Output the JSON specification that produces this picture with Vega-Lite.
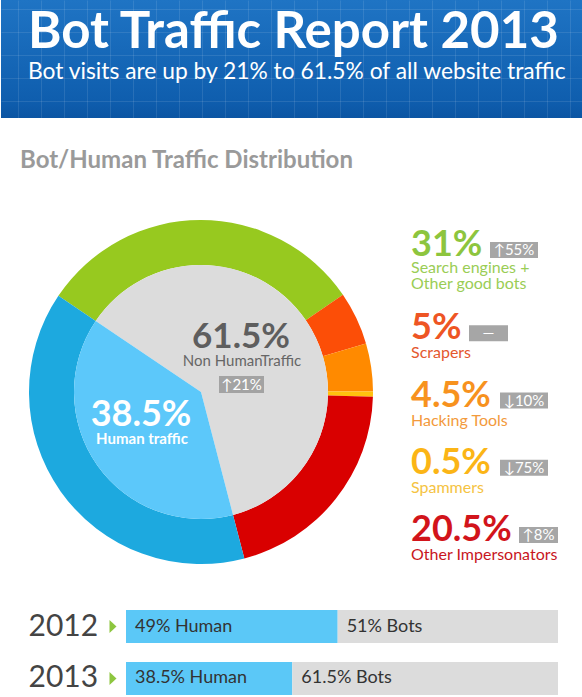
{
  "$schema": "https://vega.github.io/schema/vega-lite/v6.json",
  "padding": 0,
  "background": "white",
  "spacing": 0,
  "resolve": {"scale": {"color": "independent", "fill": "independent", "shape": "independent", "theta": "independent"}},
  "config": {
    "view": {"stroke": null},
    "font": "Lato",
    "text": {"font": "Lato"},
    "concat": {"spacing": 0}
  },
  "datasets": {
    "ring": [
      {"seg": "Good", "name": "Search engines +\nOther good bots", "pct": 0.31, "change": "↑55%", "ord": 1},
      {"seg": "Scrapers", "name": "Scrapers", "pct": 0.05, "change": "—", "ord": 2},
      {"seg": "Hacking", "name": "Hacking Tools", "pct": 0.045, "change": "↓10%", "ord": 3},
      {"seg": "Spammers", "name": "Spammers", "pct": 0.005, "change": "↓75%", "ord": 4},
      {"seg": "Impersonators", "name": "Other Impersonators", "pct": 0.205, "change": "↑8%", "ord": 5},
      {"seg": "Human", "name": "Human traffic", "pct": 0.385, "change": "", "ord": 6}
    ],
    "core": [
      {"seg": "Bots", "name": "Non HumanTraffic", "pct": 0.615, "change": "↑21%", "ord": 1},
      {"seg": "HumanCore", "name": "Human traffic", "pct": 0.385, "change": "", "ord": 2}
    ],
    "years": [
      {"year": "2012", "group": "Human", "pct": 0.49, "label": "49% Human", "ord": 1},
      {"year": "2012", "group": "Bots", "pct": 0.51, "label": "51% Bots", "ord": 2},
      {"year": "2013", "group": "Human", "pct": 0.385, "label": "38.5% Human", "ord": 1},
      {"year": "2013", "group": "Bots", "pct": 0.615, "label": "61.5% Bots", "ord": 2}
    ]
  },
  "vconcat": [
    {
      "width": 582,
      "height": 118,
      "data": {"values": [{}]},
      "layer": [
        {
          "mark": {
            "type": "rect",
            "color": {
              "gradient": "linear", "x1": 0, "y1": 0, "x2": 0, "y2": 1,
              "stops": [
                {"offset": 0, "color": "#1f74c4"},
                {"offset": 0.85, "color": "#0f5eae"},
                {"offset": 1, "color": "#0b55a3"}
              ]
            }
          }
        },
        {
          "mark": {"type": "point", "opacity": 0, "size": 0, "strokeWidth": 0},
          "encoding": {
            "x": {
              "datum": 291, "type": "quantitative",
              "scale": {"domain": [0, 582], "nice": false, "zero": false},
              "axis": {"grid": true, "zindex": 1, "values": [17,40,63,86,109,132,155,178,201,224,247,270,293,316,339,362,385,408,431,454,477,500,523,546,569], "gridColor": "#ffffff", "gridOpacity": 0.1, "labels": false, "ticks": false, "domain": false, "title": null}
            },
            "y": {
              "datum": 59, "type": "quantitative",
              "scale": {"domain": [0, 118], "nice": false, "zero": false},
              "axis": {"grid": true, "zindex": 1, "values": [17,40,63,86,109], "gridColor": "#ffffff", "gridOpacity": 0.1, "labels": false, "ticks": false, "domain": false, "title": null}
            }
          }
        },
        {
          "mark": {"type": "text", "text": "Bot Traffic Report 2013", "x": 27, "y": 48, "align": "left", "baseline": "alphabetic", "fontSize": 51, "fontWeight": "bold", "color": "#ffffff"}
        },
        {
          "mark": {"type": "text", "text": "Bot visits are up by 21% to 61.5% of all website traffic", "x": 27, "y": 79, "align": "left", "baseline": "alphabetic", "fontSize": 22.8, "color": "#ffffff"}
        }
      ]
    },
    {
      "width": 582,
      "height": 100,
      "data": {"values": [{}]},
      "layer": [
        {
          "mark": {"type": "text", "text": "Bot/Human Traffic Distribution", "x": 19, "y": 49, "align": "left", "baseline": "alphabetic", "fontSize": 24, "fontWeight": "bold", "color": "#9a9a9a"}
        },
        {
          "mark": {"type": "rule", "x": 20, "x2": 559, "y": 64, "color": "#e6e6e6", "strokeWidth": 2},
          "encoding": {}
        }
      ]
    },
    {
      "resolve": {"scale": {"color": "independent", "fill": "independent", "shape": "independent"}},
      "hconcat": [
        {
          "width": 400,
          "height": 346,
          "layer": [
            {
              "data": {"name": "ring"},
              "mark": {"type": "arc", "outerRadius": 172, "innerRadius": 127},
              "encoding": {
                "theta": {"field": "pct", "type": "quantitative", "stack": true, "scale": {"domain": [0, 1], "range": [5.3058, 11.589]}},
                "order": {"field": "ord", "type": "quantitative"},
                "color": {"field": "seg", "type": "nominal", "legend": null,
                  "scale": {"domain": ["Good", "Scrapers", "Hacking", "Spammers", "Impersonators", "Human"],
                            "range": ["#97c91f", "#fc4e07", "#ff8a00", "#ffc20e", "#d90000", "#1da9df"]}}
              }
            },
            {
              "data": {"name": "core"},
              "mark": {"type": "arc", "outerRadius": 127},
              "encoding": {
                "theta": {"field": "pct", "type": "quantitative", "stack": true, "scale": {"domain": [0, 1], "range": [5.3058, 11.589]}},
                "order": {"field": "ord", "type": "quantitative"},
                "color": {"field": "seg", "type": "nominal", "legend": null,
                  "scale": {"domain": ["Bots", "HumanCore"], "range": ["#dcdcdc", "#5cc8fa"]}}
              }
            },
            {
              "data": {"name": "core"},
              "transform": [{"filter": "datum.seg === 'Bots'"}],
              "layer": [
                {
                  "mark": {"type": "text", "x": 240, "y": 129, "align": "center", "baseline": "alphabetic", "fontSize": 35, "fontWeight": "bold", "color": "#5e5e5e"},
                  "encoding": {"text": {"field": "pct", "type": "quantitative", "format": "~%"}}
                },
                {
                  "mark": {"type": "text", "x": 241, "y": 147, "align": "center", "baseline": "alphabetic", "fontSize": 15, "color": "#666666"},
                  "encoding": {"text": {"field": "name", "type": "nominal"}}
                },
                {
                  "mark": {"type": "rect", "x": 218, "x2": 263, "y": 157, "y2": 174, "color": "#a3a3a3"}
                },
                {
                  "mark": {"type": "text", "x": 240.5, "y": 166, "align": "center", "baseline": "middle", "fontSize": 15, "color": "#ffffff"},
                  "encoding": {"text": {"field": "change", "type": "nominal"}}
                }
              ]
            },
            {
              "data": {"name": "core"},
              "transform": [{"filter": "datum.seg === 'HumanCore'"}],
              "layer": [
                {
                  "mark": {"type": "text", "x": 140, "y": 207, "align": "center", "baseline": "alphabetic", "fontSize": 36, "fontWeight": "bold", "color": "#ffffff"},
                  "encoding": {"text": {"field": "pct", "type": "quantitative", "format": "~%"}}
                },
                {
                  "mark": {"type": "text", "x": 141, "y": 225, "align": "center", "baseline": "alphabetic", "fontSize": 15, "fontWeight": "bold", "color": "#ffffff"},
                  "encoding": {"text": {"field": "name", "type": "nominal"}}
                }
              ]
            }
          ],
          "resolve": {"scale": {"color": "independent"}}
        },
        {
          "width": 182,
          "height": 391,
          "data": {"name": "ring"},
          "transform": [{"filter": "datum.seg !== 'Human'"}],
          "encoding": {
            "y": {"field": "seg", "type": "nominal", "sort": null,
              "scale": {"type": "point", "domain": ["Good", "Scrapers", "Hacking", "Spammers", "Impersonators"], "range": [53, 322], "padding": 0},
              "axis": null}
          },
          "layer": [
            {
              "mark": {"type": "text", "x": 10, "align": "left", "baseline": "alphabetic", "fontSize": 36, "fontWeight": "bold",
                "dy": {"expr": "datum.seg === 'Good' ? -16 : 0"}},
              "encoding": {
                "text": {"field": "pct", "type": "quantitative", "format": "~%"},
                "color": {"field": "seg", "type": "nominal", "legend": null,
                  "scale": {"domain": ["Good", "Scrapers", "Hacking", "Spammers", "Impersonators"],
                            "range": ["#8dc53e", "#ee5524", "#f7921e", "#fbb516", "#d2141b"]}}
              }
            },
            {
              "mark": {"type": "text", "x": 10, "align": "left", "baseline": "alphabetic", "fontSize": 16, "lineBreak": "\n", "lineHeight": 16,
                "dy": {"expr": "datum.seg === 'Good' ? 1 : 19"}},
              "encoding": {
                "text": {"field": "name", "type": "nominal"},
                "fill": {"field": "seg", "type": "nominal", "legend": null,
                  "scale": {"domain": ["Good", "Scrapers", "Hacking", "Spammers", "Impersonators"],
                            "range": ["#9acd55", "#e4572e", "#f39a3c", "#f5c342", "#c8161d"]}}
              }
            },
            {
              "mark": {"type": "point", "x": 10, "filled": true, "size": 4, "color": "#a6a6a6", "opacity": 1, "strokeWidth": 0},
              "encoding": {
                "shape": {"field": "seg", "type": "nominal", "legend": null,
                  "scale": {"domain": ["Good", "Scrapers", "Hacking", "Spammers", "Impersonators"],
                            "range": ["M79,-30H127V-14H79Z", "M58,-14H97V2H58Z", "M89,-14H137V2H89Z", "M89,-14H137V2H89Z", "M108,-14H147V2H108Z"]}}
              }
            },
            {
              "mark": {"type": "text", "x": 10, "align": "center", "baseline": "middle", "fontSize": 15, "color": "#ffffff",
                "dx": {"expr": "datum.seg === 'Good' ? 103 : datum.seg === 'Scrapers' ? 77.5 : datum.seg === 'Impersonators' ? 127.5 : 113"},
                "dy": {"expr": "datum.seg === 'Good' ? -22 : -6"}},
              "encoding": {"text": {"field": "change", "type": "nominal"}}
            }
          ]
        }
      ]
    },
    {
      "width": 557,
      "height": 85,
      "data": {"name": "years"},
      "transform": [{"stack": "pct", "groupby": ["year"], "sort": [{"field": "ord", "order": "ascending"}], "as": ["x0", "x1"]}],
      "encoding": {
        "y": {"field": "year", "type": "nominal", "sort": null,
          "scale": {"paddingInner": 0.365, "paddingOuter": 0},
          "axis": {"title": null, "domain": false, "ticks": false, "tickSize": 0, "labelAlign": "left", "labelPadding": -27, "labelFontSize": 30, "labelColor": "#444444", "labelFont": "Lato", "labelBaseline": "middle"}}
      },
      "layer": [
        {
          "mark": {"type": "bar"},
          "encoding": {
            "x": {"field": "x0", "type": "quantitative", "scale": {"domain": [0, 1], "range": [125, 557]}, "axis": null},
            "x2": {"field": "x1"},
            "color": {"field": "group", "type": "nominal", "legend": null, "scale": {"domain": ["Human", "Bots"], "range": ["#5bc8f7", "#dcdcdc"]}}
          }
        },
        {
          "mark": {"type": "text", "align": "left", "dx": 9, "fontSize": 18, "color": "#333333"},
          "encoding": {
            "x": {"field": "x0", "type": "quantitative"},
            "text": {"field": "label", "type": "nominal"}
          }
        },
        {
          "transform": [{"filter": "datum.ord === 1"}],
          "mark": {"type": "point", "shape": "M-3.5,-6.5L3.5,0L-3.5,6.5Z", "filled": true, "color": "#8dc63f", "size": 4, "opacity": 1, "strokeWidth": 0, "xOffset": -13},
          "encoding": {"x": {"datum": 0, "type": "quantitative"}}
        }
      ]
    }
  ]
}
